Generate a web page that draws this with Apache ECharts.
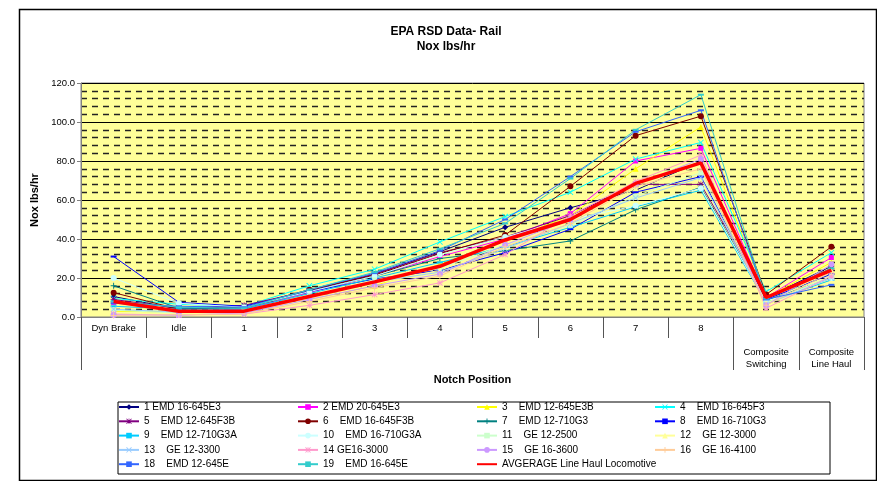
<!DOCTYPE html>
<html>
<head>
<meta charset="utf-8">
<script src="https://cdn.jsdelivr.net/npm/echarts@6/dist/echarts.min.js"></script>
<style>
html,body{margin:0;padding:0;background:#fff;}
#chart{width:877px;height:481px;}
</style>
</head>
<body>
<div id="chart"></div>
<script>
// ---------- DATA ----------
const categories = ['Dyn Brake','Idle','1','2','3','4','5','6','7','8','Composite Switching','Composite Line Haul'];
const yTicks = [0, 20, 40, 60, 80, 100, 120];

const s1  = [10.5, 4.0, 5.5, 13.5, 22.0, 33.5, 46.0, 56.0, 65.0, 80.0, 10.0, 26.0];
const s2  = [7.5, 3.0, 4.0, 12.5, 21.0, 31.0, 40.0, 53.0, 80.0, 86.5, 10.0, 30.5];
const s3  = [3.0, 2.5, 3.0, 9.0, 16.0, 27.0, 39.0, 52.0, 76.0, 97.5, 10.0, 28.0];
const s4  = [9.5, 6.5, 5.5, 16.0, 24.5, 38.5, 51.5, 64.0, 81.0, 89.5, 13.0, 33.0];
const s5  = [9.0, 4.5, 6.0, 13.5, 22.0, 33.0, 41.0, 52.0, 68.0, 68.0, 10.0, 25.0];
const s6  = [12.5, 4.0, 5.0, 14.0, 21.5, 32.5, 42.0, 67.0, 93.0, 103.0, 11.5, 36.0];
const s7  = [16.0, 4.5, 4.5, 13.0, 21.0, 30.0, 34.0, 39.0, 55.0, 66.5, 8.5, 20.0];
const s8  = [31.0, 7.5, 5.5, 13.0, 19.5, 24.0, 33.0, 45.0, 64.0, 72.0, 9.0, 22.0];
const s9  = [5.5, 4.0, 4.0, 12.0, 20.0, 28.0, 36.0, 46.0, 56.5, 65.0, 7.5, 19.0];
const s10 = [20.0, 7.0, 5.0, 13.0, 21.0, 32.0, 41.0, 50.0, 57.0, 66.0, 8.0, 20.0];
const s11 = [3.5, 2.0, 3.0, 11.0, 19.0, 25.0, 37.0, 47.0, 62.0, 74.0, 7.0, 21.0];
const s12 = [2.0, 1.5, 2.5, 9.0, 17.0, 24.0, 36.0, 49.0, 66.0, 78.0, 7.0, 24.0];
const s13 = [4.0, 2.5, 3.5, 11.0, 18.0, 23.0, 35.0, 48.0, 61.0, 71.5, 6.5, 20.0];
const s14 = [1.5, 1.0, 1.5, 6.0, 11.5, 17.5, 32.0, 52.0, 69.5, 83.0, 4.5, 21.0];
const s15 = [1.0, 1.0, 2.0, 9.0, 16.0, 22.0, 37.0, 50.0, 68.0, 81.0, 6.0, 27.0];
const s16 = [0.8, 1.2, 1.5, 8.0, 15.0, 21.0, 36.0, 48.0, 67.0, 76.0, 6.0, 23.0];
const s18 = [7.0, 5.5, 5.0, 14.0, 22.5, 34.0, 50.0, 72.0, 95.0, 106.0, 9.0, 16.5];
const s19 = [8.0, 5.0, 4.5, 14.0, 23.0, 35.0, 48.0, 71.0, 96.0, 114.0, 9.5, 25.0];
const avg = [8.0, 3.0, 3.0, 10.5, 18.0, 26.0, 39.5, 50.0, 68.5, 79.0, 10.0, 24.0];

const seriesNames = [
  '1 EMD 16-645E3', '2 EMD 20-645E3', '3    EMD 12-645E3B', '4    EMD 16-645F3',
  '5    EMD 12-645F3B', '6    EMD 16-645F3B', '7    EMD 12-710G3', '8    EMD 16-710G3',
  '9    EMD 12-710G3A', '10    EMD 16-710G3A', '11    GE 12-2500', '12    GE 12-3000',
  '13    GE 12-3300', '14 GE16-3000', '15    GE 16-3600', '16    GE 16-4100',
  '18    EMD 12-645E', '19    EMD 16-645E', 'AVGERAGE Line Haul Locomotive'
];
const seriesValues = [s1,s2,s3,s4,s5,s6,s7,s8,s9,s10,s11,s12,s13,s14,s15,s16,s18,s19,avg];

// ---------- STYLE ----------
const SYM_X = 'path://M0,1L1,0L5,4L9,0L10,1L6,5L10,9L9,10L5,6L1,10L0,9L4,5Z';
const SYM_PLUS = 'path://M4.2,0H5.8V4.2H10V5.8H5.8V10H4.2V5.8H0V4.2H4.2Z';
const SYM_AST = 'path://M0,1L1,0L5,4L9,0L10,1L6,5L10,9L9,10L5,6L1,10L0,9L4,5Z M4.4,0H5.6V10H4.4Z M0,4.4H10V5.6H0Z';
const SYM_DASH = 'path://M0,0H10V3H0Z';
const styles = [
  ['#000080','diamond',6],
  ['#FF00FF','rect',5],
  ['#FFFF00','triangle',6],
  ['#00FFFF',SYM_X,6],
  ['#800080',SYM_AST,6],
  ['#800000','circle',6],
  ['#008080',SYM_PLUS,6],
  ['#0000FF',SYM_DASH,[6,2]],
  ['#00CCFF',SYM_DASH,[6,2]],
  ['#CCFFFF','circle',6],
  ['#CCFFCC','rect',5],
  ['#FFFF99','triangle',6],
  ['#99CCFF',SYM_X,6],
  ['#FF99CC',SYM_AST,6],
  ['#CC99FF','circle',6],
  ['#FFCC99',SYM_PLUS,6],
  ['#3366FF',SYM_DASH,[6,2]],
  ['#33CCCC',SYM_DASH,[6,2]],
  ['#FF0000','none',0]
];

const FONT = 'Liberation Sans, Arial, sans-serif';
const AVG_INDEX = seriesValues.length - 1;

const series = seriesValues.map(function(vals, i){
  const st = styles[i];
  const isAvg = i === AVG_INDEX;
  return {
    name: seriesNames[i],
    type: 'line',
    xAxisIndex: 0,
    yAxisIndex: 0,
    data: vals,
    symbol: st[1],
    symbolSize: st[2],
    showSymbol: !isAvg,
    z: isAvg ? 5 : 3,
    lineStyle: { color: st[0], width: isAvg ? 3.5 : 1 },
    itemStyle: { color: st[0], borderColor: st[0], borderWidth: 0 },
    emphasis: { disabled: true }
  };
});

const cols = [[0,4,8,12,16],[1,5,9,13,17],[2,6,10,14,18],[3,7,11,15]];
const colLeft = [118, 297, 476, 654];
const legends = cols.map(function(c, k){
  return {
    orient: 'vertical',
    left: colLeft[k],
    top: 402,
    itemWidth: 20,
    itemHeight: 7,
    itemGap: 4.3,
    padding: 0,
    selectedMode: false,
    textStyle: { fontFamily: FONT, fontSize: 10, color: '#000' },
    data: c.map(function(i){
      if (i === AVG_INDEX) { return { name: seriesNames[i], itemStyle: { opacity: 0 } }; }
      return seriesNames[i];
    })
  };
});

const chart = echarts.init(document.getElementById('chart'), null, {renderer: 'canvas'});
chart.setOption({
  animation: false,
  backgroundColor: '#ffffff',
  title: {
    text: 'EPA RSD Data- Rail\nNox lbs/hr',
    left: 441,
    textAlign: 'center',
    top: 19,
    textStyle: { fontFamily: FONT, fontSize: 12, fontWeight: 'bold', color: '#000', lineHeight: 15 }
  },
  legend: legends,
  grid: {
    left: 81, top: 83, width: 783, height: 234,
    show: true, backgroundColor: '#FFFF99', borderColor: '#808080', borderWidth: 1,
    containLabel: false
  },
  xAxis: [{
    type: 'category',
    data: categories,
    boundaryGap: true,
    name: 'Notch Position',
    nameLocation: 'middle',
    nameGap: 57,
    nameTextStyle: { fontFamily: FONT, fontSize: 11, fontWeight: 'bold', color: '#000' },
    axisLine: { show: true, lineStyle: { color: '#808080', width: 1 } },
    axisTick: { show: true, length: 21, interval: 0, lineStyle: { color: '#555', width: 1 } },
    axisLabel: {
      interval: 0, margin: 5, fontFamily: FONT, fontSize: 9.5, color: '#000', lineHeight: 12,
      formatter: function(v){
        if (v.indexOf('Composite') === 0) { return '\n\n' + v.replace(' ', '\n'); }
        return v;
      }
    },
    splitLine: { show: false }
  }, {
    type: 'category',
    data: categories,
    boundaryGap: true,
    position: 'bottom',
    axisLine: { show: false },
    axisLabel: { show: false },
    axisTick: { show: true, length: 53, lineStyle: { color: '#555', width: 1 },
      interval: function(idx){ return idx === 0 || idx === 10 || idx === 11; } },
    splitLine: { show: false }
  }],
  yAxis: {
    type: 'value',
    min: yTicks[0],
    max: yTicks[yTicks.length - 1],
    interval: 20,
    name: 'Nox lbs/hr',
    nameLocation: 'middle',
    nameGap: 31,
    nameTextStyle: { fontFamily: FONT, fontSize: 11, fontWeight: 'bold', color: '#000' },
    axisLine: { show: true, lineStyle: { color: '#808080' } },
    axisTick: { show: true, length: 4, lineStyle: { color: '#808080' } },
    axisLabel: { fontFamily: FONT, fontSize: 9.5, color: '#000', margin: 6,
      formatter: function(v){ return v.toFixed(1); } },
    splitLine: { show: true, lineStyle: { color: '#000', width: 1 } },
    minorTick: { show: false, splitNumber: 5 },
    minorSplitLine: { show: true, lineStyle: { color: '#222', width: 1.3, type: [6, 5] } }
  },
  graphic: [
    { type: 'rect', left: 17, top: 7, shape: { width: 857, height: 471 },
      style: { fill: 'none', stroke: '#000', lineWidth: 1.5 }, silent: true, z: -1 },
    { type: 'rect', left: 115.5, top: 399.5, shape: { width: 712, height: 72 },
      style: { fill: 'none', stroke: '#000', lineWidth: 1 }, silent: true, z: -1 }
  ],
  series: series
});
</script>
</body>
</html>
